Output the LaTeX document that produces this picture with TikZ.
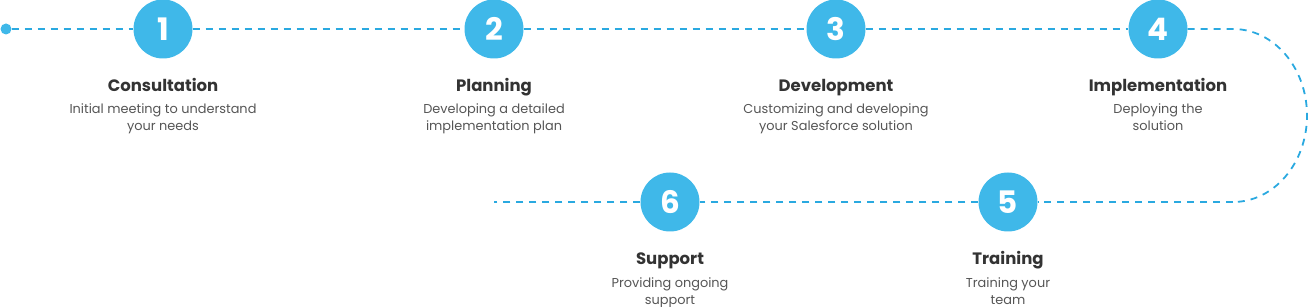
\documentclass[tikz,border=0pt]{standalone}
\usepackage{fontspec}
\setmainfont{Poppins}
\definecolor{stepblue}{HTML}{3FB8E9}
\definecolor{lineblue}{HTML}{2AA9E0}
\definecolor{titlegray}{HTML}{333333}
\definecolor{descgray}{HTML}{555555}
\newcommand{\firstline}{\rule{0pt}{15pt}}
\begin{document}
\begin{tikzpicture}[x=1pt,y=-1pt,
  stepcircle/.style={circle,fill=stepblue,minimum size=59pt,inner sep=0pt,text=white,font=\fontsize{31}{31}\selectfont\bfseries},
  steptitle/.style={anchor=base,inner sep=0pt,text=titlegray,font=\fontsize{16.5}{20}\selectfont\bfseries},
  stepdesc/.style={anchor=north,inner sep=0pt,align=center,text=descgray,font=\fontsize{12.9}{17}\selectfont},
  dashline/.style={draw=lineblue,line width=1.8pt,dash pattern=on 7pt off 6pt}]
\useasboundingbox (0,0) rectangle (1309,307);
% nodes
\node[circle,fill=stepblue,minimum size=11pt,inner sep=0pt] (dot) at (6,29) {};
\node[stepcircle] (c1) at (163,29) {1};
\node[stepcircle] (c2) at (494,29) {2};
\node[stepcircle] (c3) at (836,29) {3};
\node[stepcircle] (c4) at (1158,29) {4};
\node[stepcircle] (c5) at (1008,202) {5};
\node[stepcircle] (c6) at (670,202) {6};
\coordinate (turnA) at (1233,29);
\coordinate (turnB) at (1233,202);
\coordinate (lineend) at (494,202);
% connectors
\draw[dashline] (dot) -- (c1);
\draw[dashline] (c1) -- (c2);
\draw[dashline] (c2) -- (c3);
\draw[dashline] (c3) -- (c4);
\draw[dashline] (c4) -- (turnA) arc[start angle=-90,end angle=90,x radius=74,y radius=86.5];
\draw[dashline] (turnB) -- (c5);
\draw[dashline] (c5) -- (c6);
\draw[dashline] (c6) -- (lineend);
% texts
\node[steptitle] (t1) at (163,92) {Consultation};
\node[stepdesc] (d1) at (163,98) {\firstline Initial meeting to understand\\your needs};
\node[steptitle] (t2) at (494,92) {Planning};
\node[stepdesc] (d2) at (494,98) {\firstline Developing a detailed\\implementation plan};
\node[steptitle] (t3) at (836,92) {Development};
\node[stepdesc] (d3) at (836,98) {\firstline Customizing and developing\\your Salesforce solution};
\node[steptitle] (t4) at (1158,92) {Implementation};
\node[stepdesc] (d4) at (1158,98) {\firstline Deploying the\\solution};
\node[steptitle] (t5) at (1008,265) {Training};
\node[stepdesc] (d5) at (1008,272) {\firstline Training your\\team};
\node[steptitle] (t6) at (670,265) {Support};
\node[stepdesc] (d6) at (670,272) {\firstline Providing ongoing\\support};
\end{tikzpicture}
\end{document}
